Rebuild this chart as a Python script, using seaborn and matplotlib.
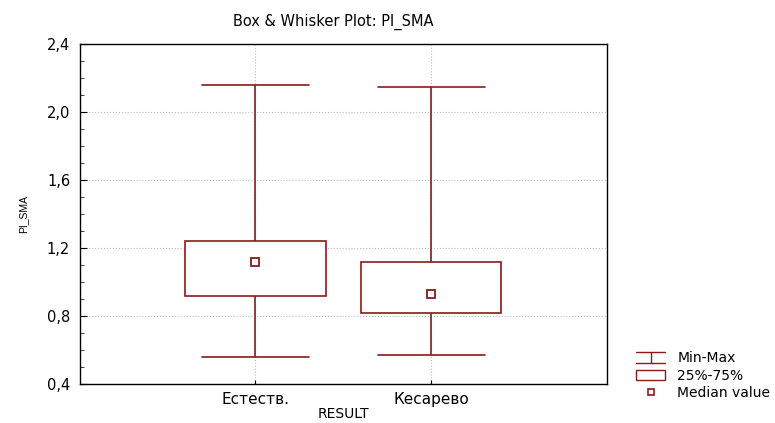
import numpy as np
import pandas as pd
import matplotlib
matplotlib.use("Agg")
import matplotlib.pyplot as plt
import seaborn as sns
from matplotlib.lines import Line2D
from matplotlib.patches import Patch
from matplotlib.legend_handler import HandlerBase
from matplotlib.ticker import MultipleLocator, FuncFormatter

# summary values: min, q1, median, q3, max
groups = ["Естеств.", "Кесарево"]
mins = [0.56, 0.57]
q1s = [0.92, 0.82]
medians = [1.12, 0.93]
q3s = [1.24, 1.12]
maxs = [2.16, 2.15]

RED = "#8b1a1a"

rows = []
for g, a, b, c, d, e in zip(groups, mins, q1s, medians, q3s, maxs):
    for v in (a, b, c, d, e):
        rows.append({"RESULT": g, "PI_SMA": v})
df = pd.DataFrame(rows)

sns.set_style("ticks")
plt.rcParams["font.family"] = ["DejaVu Sans"]
plt.rcParams["text.color"] = "black"
plt.rcParams["axes.labelcolor"] = "black"

fig = plt.figure(figsize=(7.75, 4.23), dpi=100)
ax = fig.add_axes([0.103, 0.092, 0.680, 0.804])

sns.boxplot(data=df, x="RESULT", y="PI_SMA", whis=(0, 100), width=0.8,
            color="white", linecolor=RED, linewidth=1.2, ax=ax,
            capwidths=0.61, medianprops={"visible": False}, zorder=3)
sns.pointplot(data=df, x="RESULT", y="PI_SMA", estimator=np.median, errorbar=None,
              linestyles="none", markers="s", color=RED, markersize=5.5,
              markerfacecolor="white", markeredgewidth=1.3, ax=ax, zorder=4)

ax.set_xlim(-1, 2)
ax.set_ylim(0.4, 2.4)
ax.yaxis.set_major_locator(MultipleLocator(0.4))
ax.yaxis.set_minor_locator(MultipleLocator(0.1))
ax.yaxis.set_major_formatter(FuncFormatter(lambda v, p: f"{v:.1f}".replace(".", ",")))
ax.tick_params(axis="both", direction="in", colors="black")
ax.tick_params(axis="y", which="major", length=5, pad=7, labelsize=10.5)
ax.tick_params(axis="y", which="minor", direction="in", length=3)
ax.tick_params(axis="x", length=3, pad=6, labelsize=11)
ax.grid(True, which="major", linestyle=":", color="#bcbcbc", linewidth=0.8, zorder=0)
ax.set_axisbelow(True)
for s in ax.spines.values():
    s.set_visible(True)
    s.set_color("black")
    s.set_linewidth(1.0)

ax.set_xlabel("RESULT", fontsize=10, labelpad=0)
ax.set_ylabel("PI_SMA", fontsize=7.5, labelpad=13, family="Liberation Sans")
ax.set_title("Box & Whisker Plot: PI_SMA", fontsize=10.5, pad=13, x=0.48)


class MinMaxHandler(HandlerBase):
    def create_artists(self, legend, orig_handle, xdescent, ydescent,
                       width, height, fontsize, trans):
        x0, y0 = -xdescent, -ydescent
        segs = [([x0, x0 + width], [y0 + height, y0 + height]),
                ([x0, x0 + width], [y0, y0]),
                ([x0 + width / 2] * 2, [y0, y0 + height])]
        arts = []
        for xs, ys in segs:
            l = Line2D(xs, ys, color=RED, linewidth=1.0)
            l.set_transform(trans)
            arts.append(l)
        return arts


minmax = Line2D([], [])
box = Patch(facecolor="white", edgecolor=RED, linewidth=1.0)
med = Line2D([], [], marker="s", linestyle="none", markerfacecolor="white",
             markeredgecolor=RED, markersize=5, markeredgewidth=1.2)
fig.legend([minmax, box, med], ["Min-Max", "25%-75%", "Median value"],
           handler_map={minmax: MinMaxHandler()},
           loc="upper left", bbox_to_anchor=(0.812, 0.186), frameon=False,
           fontsize=10, handlelength=2.1, handleheight=0.75, labelspacing=0.25,
           handletextpad=0.85, borderpad=0)

fig.savefig("out.png", dpi=100)
